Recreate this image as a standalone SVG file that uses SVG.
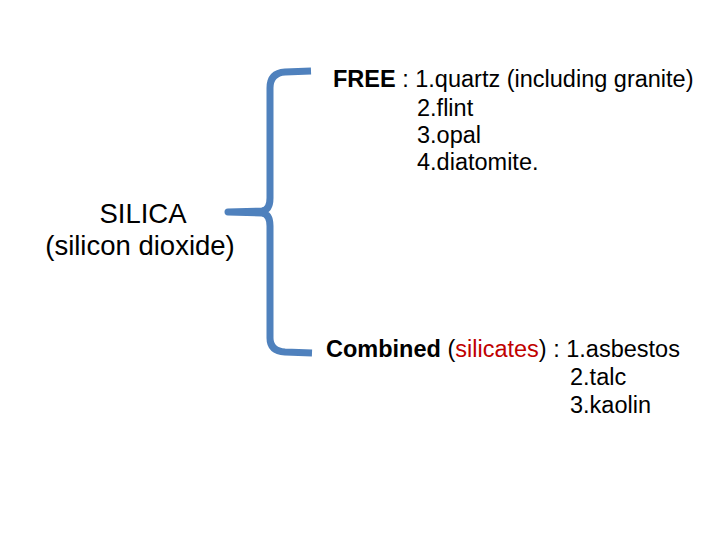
<svg xmlns="http://www.w3.org/2000/svg" width="720" height="540" viewBox="0 0 720 540">
<style>text{font-family:"Liberation Sans",Arial,sans-serif;font-size:23.5px;fill:#000}.b{font-weight:bold}.r{fill:#c00000}.big{font-size:27.5px}</style>
<rect width="720" height="540" fill="#fff"/>
<g id="connectors"><path d="M311 71 L285 72 Q270 73 270 88 L270 198 Q270 210 262 211 L228 212 L262 213 Q270 214 270 226 L270 338 Q270 351 285 352 L312 353" fill="none" stroke="#4f81bd" stroke-width="7" stroke-linejoin="round"/></g>
<g id="silica"><text class="big" x="143" y="223" text-anchor="middle">SILICA</text><text class="big" x="140" y="255" text-anchor="middle">(silicon dioxide)</text></g>
<g id="free"><text x="333" y="87"><tspan class="b">FREE</tspan> : 1.quartz (including granite)</text><text x="417" y="116">2.flint</text><text x="417" y="143">3.opal</text><text x="417" y="170">4.diatomite.</text></g>
<g id="combined"><text x="326" y="357"><tspan class="b">Combined</tspan> (<tspan class="r">silicates</tspan>) : 1.asbestos</text><text x="570" y="385">2.talc</text><text x="570" y="413">3.kaolin</text></g>
</svg>
